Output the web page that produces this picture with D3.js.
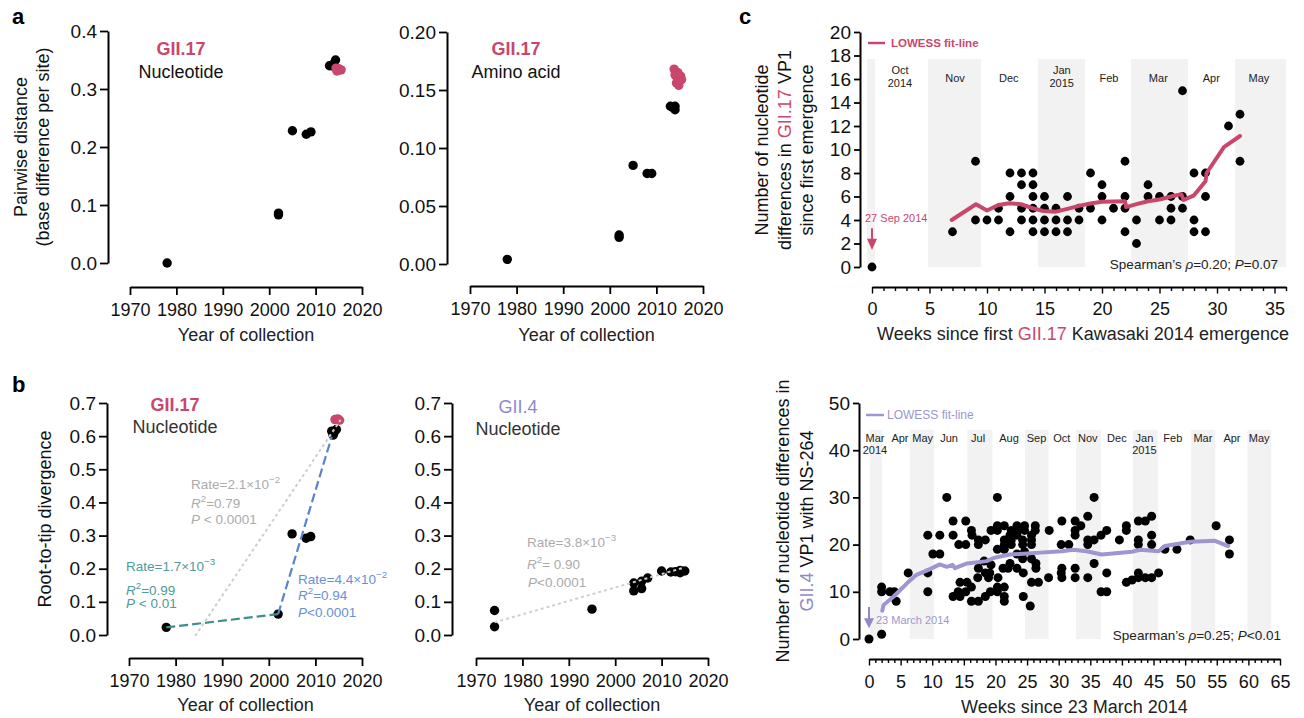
<!DOCTYPE html>
<html lang="en">
<head>
<meta charset="utf-8">
<title>GII.17 and GII.4 divergence</title>
<script src="https://d3js.org/d3.v7.min.js"></script>
<style>
  body { margin: 0; background: #fff; }
</style>
</head>
<body>
<div id="figure"></div>
<script>

// ---- data ----
var yearTicks = [1970, 1980, 1990, 2000, 2010, 2020];

// a, nucleotide pairwise distance
var ntOldYear = [1978, 2002, 2002, 2005, 2008, 2009, 2013, 2013.8, 2014.3, 2014.1];
var ntOldDist = [0.000, 0.086, 0.083, 0.228, 0.222, 0.226, 0.340, 0.343, 0.350, 0.338];
var ntNewYear = [2014.4, 2014.8, 2015.2, 2015.5, 2014.6, 2015.0];
var ntNewDist = [0.336, 0.334, 0.333, 0.333, 0.331, 0.335];

// a, amino acid pairwise distance
var aaOldYear = [1978, 2002, 2002, 2005, 2008, 2009, 2013, 2013.5, 2014, 2014];
var aaOldDist = [0.004, 0.025, 0.023, 0.085, 0.078, 0.078, 0.136, 0.135, 0.136, 0.133];
var aaNewYear = [2013.8, 2014, 2014.5, 2015, 2014.3, 2015.2, 2014.6, 2014.8, 2015.4];
var aaNewDist = [0.168, 0.163, 0.160, 0.158, 0.156, 0.162, 0.165, 0.154, 0.159];

// b, GII.17 root-to-tip
var g17OldYear = [1978, 2002, 2005, 2008, 2009, 2013.5, 2014, 2014.5, 2013.8];
var g17OldDiv = [0.023, 0.063, 0.305, 0.292, 0.297, 0.615, 0.610, 0.620, 0.603];
var g17NewYear = [2014.2, 2014.8, 2015.2];
var g17NewDiv = [0.650, 0.652, 0.648];
var tealFitYear = [1978, 2002], tealFitDiv = [0.023, 0.063];
var blueFitYear = [2002, 2013.5], blueFitDiv = [0.063, 0.598];
var greyFitYear = [1984.2, 2015.4], greyFitDiv = [-0.003, 0.649];

// b, GII.4 root-to-tip
var g4Year = [1974, 1974, 1995, 2004, 2004, 2005.7, 2005.7, 2007, 2010, 2012, 2014, 2015, 2014, 2013];
var g4Div = [0.074, 0.025, 0.078, 0.157, 0.133, 0.162, 0.140, 0.172, 0.193, 0.190, 0.195, 0.193, 0.188, 0.191];
var g4FitYear = [1974, 2015], g4FitDiv = [0.038, 0.204];

// c top, GII.17 differences since first emergence
var cTopWeek = [0, 7, 9, 9, 10, 11, 11, 12, 12, 12, 13, 13, 13, 13, 14, 14, 14, 14, 14, 14,
  15, 15, 15, 15, 16, 16, 16, 17, 17, 17, 18, 18, 19, 19, 20, 20, 20, 21, 22, 22, 22, 22,
  23, 23, 24, 24, 25, 25, 26, 26, 26, 27, 27, 27, 28, 28, 28, 29, 29, 29, 31, 32, 32];
var cTopDiff = [0, 3, 9, 4, 4, 4, 5, 8, 6, 3, 8, 7, 5, 4, 8, 7, 6, 5, 4, 3,
  6, 5, 4, 3, 5, 4, 3, 6, 4, 3, 5, 4, 8, 5, 7, 6, 4, 5, 9, 6, 5, 3,
  4, 2, 7, 6, 6, 4, 6, 5, 4, 15, 6, 5, 8, 4, 3, 8, 6, 3, 12, 13, 9];
var cTopFitWeek = [6.93, 9.04, 10.0, 10.98, 11.94, 12.96, 13.97, 14.9, 16.0, 17.0, 18.0, 19.0, 20.0,
  22.0, 22.1, 23.0, 24.0, 25.0, 26.0, 26.9, 27.1, 28.0, 29.0, 29.1, 30.6, 32.0];
var cTopFitVal = [4.0, 5.34, 4.81, 5.28, 5.42, 5.34, 5.0, 4.77, 4.71, 4.95, 5.2, 5.4, 5.55,
  5.6, 5.1, 5.35, 5.6, 5.75, 6.0, 6.2, 5.7, 6.1, 7.3, 8.0, 10.2, 11.15];
var cTopShadeFrom = [-0.43, 4.87, 14.43, 22.52, 31.57];
var cTopShadeTo = [0.26, 9.48, 18.52, 27.48, 36.0];
var cTopMonths = [["Oct", "2014"], ["Nov"], ["Dec"], ["Jan", "2015"], ["Feb"], ["Mar"], ["Apr"], ["May"]];
var cTopMonthWeek = [2.43, 7.22, 11.9, 16.5, 20.6, 24.9, 29.5, 33.65];

// c bottom, GII.4 differences with NS-264
var cBotWeek = [0, 2, 2, 2, 3.3, 4, 4.3, 6.2, 9.3, 9.3, 9.3, 10.1, 11.2, 11.2,
  12.3, 13.3, 13.3, 13.3, 14.4, 14.1, 15.3, 16.2, 14.4, 15.5, 14.2, 15.3, 15.3, 16.2, 16.3,
  17.3, 17.3, 18.4, 19.3, 20.3, 20.3, 21.4, 20.3, 22.5, 23.4, 23.4, 24.6, 24.6, 26.3, 26.3,
  22.3, 23.4, 25.7, 21.4, 22.5, 24.3, 25.7, 21.4, 22.5, 24.3, 25.7, 20.3, 21.4, 23.4, 24.6,
  24.3, 25.7, 26.4, 18.2, 19.3, 17.3, 22.3, 22, 23.4, 26.4, 21.2, 18.4, 19.1, 17.2, 18.9,
  20.4, 24.4, 25.7, 26.8, 28.4, 16.2, 17.3, 18.4, 19.2, 20.3, 20.3, 21.4, 21.4, 21.4, 24.4,
  25.5, 28.5, 30.5, 30.4, 30.4, 30.5, 30.5, 31.6, 32.6, 32.6, 32.6, 32.6, 32.6, 33.5, 34.6,
  34.6, 34.6, 34.6, 35.6, 35.6, 35.6, 36.7, 36.7, 37.6, 37.6, 37.6, 39.6, 40.7, 40.7, 40.7,
  41.6, 42.6, 42.6, 43.7, 42.6, 43.7, 44.7, 42.6, 42.6, 44.7, 44.7, 44.7, 45.8, 46.8, 48.7,
  50.8, 54.9, 57, 57];
var cBotDiff = [0, 1, 11, 10, 10, 10, 8, 14, 22, 14, 10, 18, 18, 22,
  30, 25, 22, 9, 9, 10, 10, 11, 12, 12, 20, 20, 25, 23, 22,
  21, 20, 21, 23, 24, 23, 24, 30, 23, 24, 23, 24, 23, 24, 23,
  22, 22, 22, 21, 21, 21, 21, 20, 20, 20, 20, 19, 19, 18, 18.5,
  17, 17, 16, 16.5, 15.7, 15, 16, 15, 15, 15, 15, 14, 14, 13, 13,
  13, 14, 12, 12, 13, 8, 8, 9, 10, 10, 11, 11, 9, 8, 9,
  7, 23, 25, 20, 14, 15, 13, 20, 25, 23, 22, 15, 13, 24, 26,
  21, 20, 13, 30, 21, 16, 22, 10, 10, 23, 14, 21, 24, 23, 12,
  12.5, 14, 13, 13, 25, 25, 26, 21, 20, 22, 20, 13, 14, 19, 19,
  21, 24, 21, 18];
var cBotFitWeek = [2.1, 2.3, 3.9, 6.0, 7.5, 9.3, 11.2, 12.3, 13.2, 13.6, 15.5, 18.6, 19.8, 22.3, 25.0,
  27.1, 30.5, 32.3, 34.4, 36.8, 41.6, 42.9, 45.8, 46.8, 50.8, 54.7, 56.8];
var cBotFitVal = [6.0, 7.2, 9.0, 11.8, 13.6, 14.6, 15.8, 15.3, 15.7, 15.0, 16.0, 16.5, 17.2, 17.9, 18.1,
  18.3, 18.6, 18.9, 18.6, 17.9, 18.5, 18.9, 18.6, 19.7, 20.6, 20.8, 19.7];
var cBotShadeFrom = [0.16, 6.49, 15.55, 24.68, 32.75, 41.72, 50.95, 59.86];
var cBotShadeTo = [2.06, 10.28, 19.51, 28.4, 36.66, 45.68, 54.75, 63.6];
var cBotMonths = [["Mar", "2014"], ["Apr"], ["May"], ["Jun"], ["Jul"], ["Aug"], ["Sep"], ["Oct"], ["Nov"],
  ["Dec"], ["Jan", "2015"], ["Feb"], ["Mar"], ["Apr"], ["May"]];
var cBotMonthWeek = [0.95, 4.9, 8.5, 12.66, 17.25, 22.15, 26.5, 30.5, 34.6, 39.2, 43.56, 48.05, 52.8, 57.4, 61.7];

// ---- style ----
var FONT = '"Liberation Sans", Arial, Helvetica, sans-serif';
var PINK = "#c9476c";
var PURPLE = "#8f88c9";
var LOWESS_PURPLE = "#9d96d0";

var svg = d3.select("#figure").append("svg")
  .attr("width", 1304)
  .attr("height", 718)
  .attr("font-family", FONT);

function styleAxis(sel, size) {
  sel.attr("font-family", FONT).attr("font-size", size);
  sel.select(".domain").attr("stroke", "#000").attr("stroke-width", 2);
  sel.selectAll(".tick line").attr("stroke", "#000").attr("stroke-width", 1.8);
  sel.selectAll(".tick text").attr("fill", "#111");
}

function label(x, y, txt, opts) {
  opts = opts || {};
  return svg.append("text")
    .attr("x", x).attr("y", y)
    .attr("text-anchor", opts.anchor || "start")
    .attr("font-size", opts.size || 18)
    .attr("font-weight", opts.weight || "normal")
    .attr("fill", opts.color || "#111")
    .text(txt);
}

// text with italic and superscript parts
function richText(x, y, color, size, segs) {
  var t = svg.append("text").attr("x", x).attr("y", y).attr("fill", color).attr("font-size", size);
  var raised = false;
  segs.forEach(function(s) {
    var ts = t.append("tspan").text(s[0]);
    if (s[1] == "i") ts.attr("font-style", "italic");
    if (s[1] == "sup") {
      ts.attr("font-size", size * 0.72).attr("dy", -size * 0.42);
      raised = true;
    } else if (raised) {
      ts.attr("dy", size * 0.42);
      raised = false;
    }
  });
  return t;
}

function yTitle(y, lines, size) {
  lines.forEach(function(l) {
    var t = svg.append("text")
      .attr("transform", "translate(" + l.x + "," + y + ") rotate(-90)")
      .attr("text-anchor", "middle")
      .attr("font-size", size)
      .attr("fill", "#111");
    l.parts.forEach(function(p) {
      t.append("tspan").text(p[0]).attr("fill", p[1] || "#111");
    });
  });
}

function yearPanel(cfg) {
  var x = d3.scaleLinear().domain([1970, 2020]).range(cfg.xr);
  var y = d3.scaleLinear().domain(cfg.yd).range(cfg.yr);
  svg.append("g")
    .attr("transform", "translate(0," + cfg.xAxisY + ")")
    .call(d3.axisBottom(x).tickValues(yearTicks).tickFormat(d3.format("d"))
      .tickSize(8).tickSizeOuter(0).tickPadding(cfg.xPad))
    .call(styleAxis, 18);
  svg.append("g")
    .attr("transform", "translate(" + cfg.yAxisX + ",0)")
    .call(d3.axisLeft(y).tickValues(cfg.yTicks).tickFormat(d3.format(cfg.yFmt))
      .tickSize(8).tickSizeOuter(0).tickPadding(3))
    .call(styleAxis, 19);
  label((cfg.xr[0] + cfg.xr[1]) / 2, cfg.xTitleY, "Year of collection", {anchor: "middle", color: "#222"});
  return {x: x, y: y};
}

function dots(sc, xs, ys, color, r) {
  svg.append("g").selectAll("circle")
    .data(xs)
    .join("circle")
      .attr("cx", function(d) { return sc.x(d); })
      .attr("cy", function(d, i) { return sc.y(ys[i]); })
      .attr("r", r || 4.7)
      .attr("fill", color);
}

function fitLine(sc, xs, ys, color, width, dash) {
  var line = d3.line()
    .x(function(d) { return sc.x(d); })
    .y(function(d, i) { return sc.y(ys[i]); });
  svg.append("path")
    .datum(xs)
    .attr("d", line)
    .attr("fill", "none")
    .attr("stroke", color)
    .attr("stroke-width", width)
    .attr("stroke-dasharray", dash || null)
    .attr("stroke-linejoin", "round")
    .attr("stroke-linecap", dash ? "butt" : "round");
}

// ---- panel labels ----
label(12, 24, "a", {size: 22, weight: "bold", color: "#000"});
label(12, 392, "b", {size: 22, weight: "bold", color: "#000"});
label(739, 24, "c", {size: 22, weight: "bold", color: "#000"});

// ---- a left ----
var aNt = yearPanel({xr: [130, 362], yd: [0, 0.4], yr: [263, 31], xAxisY: 287, yAxisX: 108,
  yTicks: [0, 0.1, 0.2, 0.3, 0.4], yFmt: ".1f", xPad: 8, xTitleY: 341});
dots(aNt, ntOldYear, ntOldDist, "#000");
dots(aNt, ntNewYear, ntNewDist, PINK);
label(181, 55, "GII.17", {anchor: "middle", weight: "bold", color: PINK});
label(181, 78, "Nucleotide", {anchor: "middle", color: "#111"});
yTitle(147, [
  {x: 27, parts: [["Pairwise distance"]]},
  {x: 49, parts: [["(base difference per site)"]]}
], 18);

// ---- a right ----
var aAa = yearPanel({xr: [470, 703], yd: [0, 0.2], yr: [264, 32], xAxisY: 286, yAxisX: 447,
  yTicks: [0, 0.05, 0.1, 0.15, 0.2], yFmt: ".2f", xPad: 8, xTitleY: 341});
dots(aAa, aaOldYear, aaOldDist, "#000");
dots(aAa, aaNewYear, aaNewDist, PINK);
label(516, 55, "GII.17", {anchor: "middle", weight: "bold", color: PINK});
label(516, 78, "Amino acid", {anchor: "middle", color: "#111"});

// ---- b left ----
var bG17 = yearPanel({xr: [129, 362], yd: [0, 0.7], yr: [635, 403], xAxisY: 658, yAxisX: 107,
  yTicks: [0, 0.1, 0.2, 0.3, 0.4, 0.5, 0.6, 0.7], yFmt: ".1f", xPad: 8, xTitleY: 711});
dots(bG17, g17OldYear, g17OldDiv, "#000");
dots(bG17, g17NewYear, g17NewDiv, PINK);
fitLine(bG17, tealFitYear, tealFitDiv, "#3e8e8b", 2.2, "9,4");
fitLine(bG17, blueFitYear, blueFitDiv, "#5b82cf", 2.2, "9,4");
fitLine(bG17, greyFitYear, greyFitDiv, "#cdcdcd", 2, "3,3");
label(175, 411, "GII.17", {anchor: "middle", weight: "bold", color: PINK});
label(175, 433, "Nucleotide", {anchor: "middle", color: "#333"});
yTitle(519, [{x: 51, parts: [["Root-to-tip divergence"]]}], 18);

var GREY_TXT = "#ababab", TEAL_TXT = "#4e9b9a", BLUE_TXT = "#6a8fd8";
richText(191, 489, GREY_TXT, 13.5, [["Rate=2.1\u00d710"], ["\u22122", "sup"]]);
richText(191, 508, GREY_TXT, 13.5, [["R", "i"], ["2", "sup"], ["=0.79"]]);
richText(191, 524, GREY_TXT, 13.5, [["P", "i"], [" < 0.0001"]]);
richText(126, 571, TEAL_TXT, 13.5, [["Rate=1.7\u00d710"], ["\u22123", "sup"]]);
richText(126, 595, TEAL_TXT, 13.5, [["R", "i"], ["2", "sup"], ["=0.99"]]);
richText(126, 608, TEAL_TXT, 13.5, [["P", "i"], [" < 0.01"]]);
richText(298, 584, BLUE_TXT, 13.5, [["Rate=4.4\u00d710"], ["\u22122", "sup"]]);
richText(298, 600, BLUE_TXT, 13.5, [["R", "i"], ["2", "sup"], ["=0.94"]]);
richText(298, 617, BLUE_TXT, 13.5, [["P", "i"], ["<0.0001"]]);

// ---- b right ----
var bG4 = yearPanel({xr: [476, 708], yd: [0, 0.7], yr: [635, 403], xAxisY: 658, yAxisX: 452,
  yTicks: [0, 0.1, 0.2, 0.3, 0.4, 0.5, 0.6, 0.7], yFmt: ".1f", xPad: 8, xTitleY: 711});
dots(bG4, g4Year, g4Div, "#000");
fitLine(bG4, g4FitYear, g4FitDiv, "#cfcfcf", 2, "3,3");
label(518, 413, "GII.4", {anchor: "middle", color: PURPLE});
label(518, 435, "Nucleotide", {anchor: "middle", color: "#333"});
richText(527, 547, GREY_TXT, 13.5, [["Rate=3.8\u00d710"], ["\u22123", "sup"]]);
richText(527, 569, GREY_TXT, 13.5, [["R", "i"], ["2", "sup"], ["= 0.90"]]);
richText(528, 587, GREY_TXT, 13.5, [["P", "i"], ["<0.0001"]]);

// ---- c panels ----
function weekPanel(cfg) {
  var x = d3.scaleLinear().domain(cfg.xd).range(cfg.xr);
  var y = d3.scaleLinear().domain(cfg.yd).range(cfg.yr);
  var sc = {x: x, y: y};

  // month shading
  svg.append("g").selectAll("rect")
    .data(cfg.shadeFrom)
    .join("rect")
      .attr("x", function(d) { return x(d); })
      .attr("width", function(d, i) { return x(cfg.shadeTo[i]) - x(d); })
      .attr("y", y(cfg.shadeTop))
      .attr("height", y(0) - y(cfg.shadeTop))
      .attr("fill", "#f2f2f2");

  // month names
  svg.append("g").selectAll("text")
    .data(cfg.months)
    .join("text")
      .attr("text-anchor", "middle")
      .attr("font-size", 11)
      .attr("fill", "#222")
      .each(function(d, i) {
        var t = d3.select(this);
        d.forEach(function(s, j) {
          t.append("tspan")
            .attr("x", x(cfg.monthWeek[i]))
            .attr("y", d.length > 1 ? cfg.monthY2[j] : cfg.monthY)
            .text(s);
        });
      });

  var xg = svg.append("g")
    .attr("transform", "translate(0," + cfg.xAxisY + ")")
    .call(d3.axisBottom(x).tickValues(d3.range(cfg.xd[0], cfg.xd[1] + 1))
      .tickFormat(function(d) { return d % 5 == 0 ? d : ""; })
      .tickSize(4).tickSizeOuter(0).tickPadding(cfg.xPad))
    .call(styleAxis, 18);
  xg.selectAll(".tick line").filter(function(d) { return d % 5 == 0; }).attr("y2", 6.5);
  xg.selectAll(".tick line").attr("stroke-width", 1.4);

  svg.append("g")
    .attr("transform", "translate(" + cfg.yAxisX + ",0)")
    .call(d3.axisLeft(y).tickValues(cfg.yTicks).tickSize(6).tickSizeOuter(0).tickPadding(3))
    .call(styleAxis, 19);
  return sc;
}

// c top
var cTop = weekPanel({xd: [0, 36], xr: [872, 1286], yd: [0, 20], yr: [267, 32],
  xAxisY: 287, yAxisX: 860, yTicks: d3.range(0, 21, 2), xPad: 11,
  shadeFrom: cTopShadeFrom, shadeTo: cTopShadeTo, shadeTop: 17.7,
  months: cTopMonths, monthWeek: cTopMonthWeek, monthY: 81.5, monthY2: [74, 86.5]});
dots(cTop, cTopWeek, cTopDiff, "#000", 4.4);
fitLine(cTop, cTopFitWeek, cTopFitVal, PINK, 4);

// legend and arrow
svg.append("line").attr("x1", 868).attr("x2", 885).attr("y1", 43).attr("y2", 43)
  .attr("stroke", PINK).attr("stroke-width", 2.5);
label(891, 47, "LOWESS fit-line", {size: 11.5, weight: "bold", color: PINK});
svg.append("line")
  .attr("x1", cTop.x(0)).attr("x2", cTop.x(0))
  .attr("y1", cTop.y(3.3)).attr("y2", cTop.y(2.3))
  .attr("stroke", PINK).attr("stroke-width", 2);
svg.append("path")
  .attr("d", "M" + (cTop.x(0) - 5) + "," + cTop.y(2.4) + "L" + (cTop.x(0) + 5) + "," + cTop.y(2.4) +
    "L" + cTop.x(0) + "," + cTop.y(1.45) + "Z")
  .attr("fill", PINK);
label(865, 222, "27 Sep 2014", {size: 11, color: PINK});
richText(1278, 269, "#222", 13.5, [["Spearman\u2019s "], ["\u03c1", "i"], ["=0.20; "], ["P", "i"], ["=0.07"]])
  .attr("text-anchor", "end");

var ct = svg.append("text").attr("x", (872 + 1286) / 2 + 4).attr("y", 340)
  .attr("text-anchor", "middle").attr("font-size", 18).attr("fill", "#222");
ct.append("tspan").text("Weeks since first ");
ct.append("tspan").text("GII.17").attr("fill", PINK);
ct.append("tspan").text(" Kawasaki 2014 emergence");

yTitle(150, [
  {x: 768, parts: [["Number of nucleotide"]]},
  {x: 791, parts: [["differences in "], ["GII.17", PINK], [" VP1"]]},
  {x: 813, parts: [["since first emergence"]]}
], 18);

// c bottom
var cBot = weekPanel({xd: [0, 65], xr: [869, 1280], yd: [0, 50], yr: [639, 403],
  xAxisY: 659, yAxisX: 859, yTicks: d3.range(0, 51, 10), xPad: 12,
  shadeFrom: cBotShadeFrom, shadeTo: cBotShadeTo, shadeTop: 44.3,
  months: cBotMonths, monthWeek: cBotMonthWeek, monthY: 442, monthY2: [442, 454]});
dots(cBot, cBotWeek, cBotDiff, "#000", 4.5);
fitLine(cBot, cBotFitWeek, cBotFitVal, LOWESS_PURPLE, 4);

svg.append("line").attr("x1", 866).attr("x2", 884).attr("y1", 415).attr("y2", 415)
  .attr("stroke", LOWESS_PURPLE).attr("stroke-width", 2.5);
label(887, 419, "LOWESS fit-line", {size: 12, color: LOWESS_PURPLE});
svg.append("line")
  .attr("x1", cBot.x(0)).attr("x2", cBot.x(0))
  .attr("y1", cBot.y(6.8)).attr("y2", cBot.y(4.2))
  .attr("stroke", PURPLE).attr("stroke-width", 2);
svg.append("path")
  .attr("d", "M" + (cBot.x(0) - 5) + "," + cBot.y(4.4) + "L" + (cBot.x(0) + 5) + "," + cBot.y(4.4) +
    "L" + cBot.x(0) + "," + cBot.y(2.3) + "Z")
  .attr("fill", PURPLE);
label(876, 624, "23 March 2014", {size: 11, color: LOWESS_PURPLE});
richText(1281, 640, "#222", 13.5, [["Spearman\u2019s "], ["\u03c1", "i"], ["=0.25; "], ["P", "i"], ["<0.01"]])
  .attr("text-anchor", "end");

label((869 + 1280) / 2, 713, "Weeks since 23 March 2014", {anchor: "middle", color: "#222"});
yTitle(521, [
  {x: 789, parts: [["Number of nucleotide differences in"]]},
  {x: 813, parts: [["GII.4", PURPLE], [" VP1 with NS-264"]]}
], 18);

</script>
</body>
</html>
